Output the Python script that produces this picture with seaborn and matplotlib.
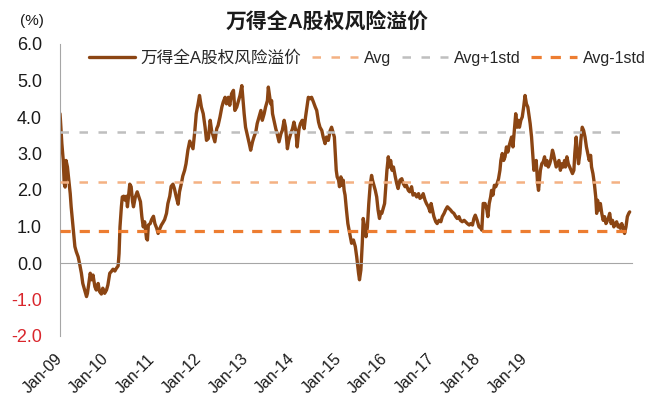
import matplotlib
matplotlib.use("Agg")
import matplotlib.pyplot as plt
import matplotlib.transforms as mtransforms
import seaborn as sns

# --------------------------------------------
# Data (decimal year, ERP in %)
# --------------------------------------------
years = [
    2009.00, 2009.01, 2009.04, 2009.07, 2009.09, 2009.11, 2009.13, 2009.16, 2009.19, 2009.22,
    2009.24, 2009.28, 2009.32, 2009.35, 2009.39, 2009.42, 2009.46, 2009.49, 2009.53, 2009.57,
    2009.59, 2009.62, 2009.65, 2009.68, 2009.71, 2009.75, 2009.78, 2009.82, 2009.85, 2009.89,
    2009.92, 2009.96, 2010.00, 2010.03, 2010.07, 2010.10, 2010.14, 2010.18, 2010.21, 2010.25,
    2010.27, 2010.29, 2010.32, 2010.34, 2010.37, 2010.40, 2010.43, 2010.45, 2010.48, 2010.50,
    2010.53, 2010.56, 2010.58, 2010.62, 2010.66, 2010.69, 2010.73, 2010.76, 2010.79, 2010.82,
    2010.86, 2010.88, 2010.90, 2010.94, 2010.97, 2011.01, 2011.04, 2011.08, 2011.11, 2011.14,
    2011.18, 2011.21, 2011.25, 2011.29, 2011.32, 2011.36, 2011.39, 2011.43, 2011.46, 2011.50,
    2011.54, 2011.57, 2011.61, 2011.64, 2011.68, 2011.71, 2011.75, 2011.79, 2011.82, 2011.86,
    2011.90, 2011.93, 2011.97, 2012.00, 2012.04,
    2012.08, 2012.12, 2012.15, 2012.19, 2012.23, 2012.26, 2012.30, 2012.33, 2012.37, 2012.40,
    2012.44, 2012.48, 2012.51, 2012.55, 2012.58, 2012.62, 2012.65, 2012.69, 2012.73, 2012.76,
    2012.80, 2012.84, 2012.87, 2012.91, 2012.93, 2012.96, 2012.99, 2013.03, 2013.07, 2013.10,
    2013.14, 2013.17, 2013.21, 2013.24, 2013.28, 2013.32, 2013.35, 2013.39, 2013.42, 2013.46,
    2013.48, 2013.50, 2013.53, 2013.55, 2013.57, 2013.60, 2013.64, 2013.67, 2013.71, 2013.75,
    2013.78, 2013.82, 2013.85, 2013.89, 2013.92, 2013.96, 2014.00, 2014.03, 2014.07, 2014.10,
    2014.14, 2014.17, 2014.21, 2014.25, 2014.28, 2014.32, 2014.34, 2014.38, 2014.41, 2014.45,
    2014.49, 2014.52, 2014.56, 2014.59, 2014.63, 2014.66, 2014.70, 2014.73, 2014.77, 2014.81,
    2014.84, 2014.88, 2014.90, 2014.92, 2014.94, 2014.96, 2014.99, 2015.01, 2015.04, 2015.06,
    2015.09, 2015.11, 2015.13, 2015.16, 2015.19, 2015.23,
    2015.27, 2015.31, 2015.35, 2015.38, 2015.42, 2015.44, 2015.47, 2015.50, 2015.52, 2015.55,
    2015.58, 2015.61, 2015.64, 2015.67, 2015.70, 2015.72, 2015.75, 2015.78, 2015.81, 2015.84,
    2015.87, 2015.90, 2015.92, 2015.95, 2015.98, 2016.00, 2016.03, 2016.06, 2016.08, 2016.11,
    2016.14, 2016.17, 2016.21, 2016.24, 2016.27, 2016.31, 2016.35, 2016.38, 2016.42, 2016.45,
    2016.49, 2016.52, 2016.56, 2016.59, 2016.63, 2016.67, 2016.71, 2016.74, 2016.78, 2016.81,
    2016.85, 2016.88, 2016.92, 2016.96, 2016.98, 2017.01, 2017.04, 2017.08, 2017.11, 2017.15,
    2017.19, 2017.22, 2017.26, 2017.29, 2017.33, 2017.37, 2017.40, 2017.43, 2017.47, 2017.51,
    2017.54, 2017.58, 2017.61, 2017.65, 2017.69, 2017.72, 2017.76, 2017.80, 2017.83, 2017.87,
    2017.90, 2017.93, 2017.97, 2018.01, 2018.05, 2018.07, 2018.10,
    2018.14, 2018.18, 2018.20, 2018.23, 2018.26, 2018.28, 2018.31, 2018.34, 2018.37, 2018.40,
    2018.43, 2018.46, 2018.48, 2018.51, 2018.54, 2018.57, 2018.60, 2018.63, 2018.66, 2018.69,
    2018.71, 2018.74, 2018.77, 2018.80, 2018.83, 2018.85, 2018.88, 2018.91, 2018.94, 2018.97,
    2019.00, 2019.03, 2019.06, 2019.09, 2019.11, 2019.14, 2019.17, 2019.19, 2019.21, 2019.24,
    2019.27, 2019.29, 2019.31, 2019.33, 2019.36, 2019.39, 2019.42, 2019.44, 2019.47, 2019.50,
    2019.53, 2019.56, 2019.59, 2019.61, 2019.64, 2019.67, 2019.70, 2019.73, 2019.76, 2019.79,
    2019.82, 2019.85, 2019.87, 2019.90, 2019.93, 2019.96, 2019.99, 2020.02, 2020.05, 2020.07,
    2020.10, 2020.12, 2020.15, 2020.18, 2020.20, 2020.23, 2020.26, 2020.29, 2020.32, 2020.35,
    2020.38, 2020.41, 2020.43, 2020.46, 2020.49, 2020.52, 2020.54, 2020.56, 2020.59, 2020.62,
    2020.65, 2020.68, 2020.71, 2020.74, 2020.76, 2020.79, 2020.82, 2020.85, 2020.88, 2020.91,
    2020.94, 2020.97, 2021.00, 2021.02, 2021.05, 2021.08, 2021.11, 2021.14, 2021.17, 2021.20,
    2021.23, 2021.25,
]
erp = [
    4.09, 3.91, 3.27, 2.81, 2.18, 2.08, 2.81, 2.63, 2.27, 1.90,
    1.54, 0.99, 0.45, 0.31, 0.17, -0.01, -0.28, -0.56, -0.74, -0.92,
    -0.83, -0.56, -0.28, -0.46, -0.33, -0.65, -0.74, -0.56, -0.78, -0.85,
    -0.69, -0.83, -0.74, -0.60, -0.28, -0.24, -0.17, -0.22, -0.15, -0.08,
    0.26, 0.99, 1.54, 1.81, 1.83, 1.72, 1.83, 1.54, 1.90, 2.16,
    2.09, 1.68, 1.54, 1.81, 1.95, 1.83, 1.68, 1.27, 0.99, 1.13,
    0.67, 0.63, 1.04, 1.08, 1.19, 1.28, 1.08, 0.95, 0.81, 0.92,
    1.04, 1.10, 1.19, 1.36, 1.63, 1.83, 2.10, 2.16, 2.04, 1.81,
    1.61, 1.95, 2.18, 2.38, 2.54, 2.72, 3.09, 3.34, 3.25, 3.13,
    3.63, 4.09, 4.36, 4.59, 4.27,
    4.09, 3.72, 3.36, 3.41, 3.91, 3.63, 3.45, 3.32, 3.68, 3.77,
    4.00, 4.27, 4.41, 4.54, 4.36, 4.54, 4.32, 4.64, 4.73, 4.18,
    4.27, 4.45, 4.59, 4.86, 4.54, 4.09, 3.72, 3.50, 3.27, 3.09,
    3.32, 3.45, 3.59, 3.82, 4.00, 4.18, 3.91, 4.09, 4.27, 4.45,
    4.82, 4.64, 4.36, 4.45, 4.09, 3.91, 3.68, 3.54, 3.32, 3.54,
    3.63, 3.91, 3.72, 3.13, 3.36, 3.54, 3.68, 3.86, 3.63, 3.18,
    3.68, 3.82, 3.91, 3.68, 4.00, 4.36, 4.54, 4.50, 4.54, 4.41,
    4.27, 4.18, 3.86, 3.72, 3.63, 3.45, 3.27, 3.45, 3.36, 3.63,
    3.72, 3.54, 3.45, 3.00, 2.54, 2.36, 2.27, 2.09, 2.36, 2.13,
    2.27, 1.99, 1.86, 1.45, 1.08, 0.81,
    0.54, 0.63, 0.45, 0.17, -0.28, -0.46, -0.19, 0.54, 1.22, 0.99,
    0.72, 0.99, 1.63, 2.13, 2.40, 2.27, 2.13, 1.99, 1.81, 1.45,
    1.22, 1.40, 1.36, 1.49, 1.63, 1.99, 2.54, 2.91, 2.63, 2.81,
    2.54, 2.63, 2.36, 2.18, 2.04, 2.27, 2.31, 2.18, 2.09, 2.13,
    1.99, 1.95, 2.09, 1.86, 1.90, 1.81, 1.90, 1.77, 1.81, 1.90,
    1.72, 1.63, 1.54, 1.40, 1.63, 1.45, 1.27, 1.13, 1.08, 1.17,
    1.13, 1.27, 1.36, 1.45, 1.54, 1.49, 1.45, 1.40, 1.36, 1.27,
    1.22, 1.27, 1.17, 1.13, 1.17, 1.13, 1.08, 1.04, 1.08, 1.04,
    1.22, 1.31, 1.17, 0.99, 0.95, 0.90, 1.63,
    1.63, 1.45, 1.27, 1.63, 1.81, 1.99, 1.86, 2.13, 2.09, 2.18,
    2.31, 2.54, 2.81, 3.00, 2.81, 2.91, 3.18, 3.04, 3.22, 3.36,
    3.45, 3.18, 3.63, 4.09, 3.72, 3.91, 3.72, 3.91, 4.00, 4.27,
    4.59, 4.36, 4.27, 4.00, 3.82, 3.45, 2.91, 2.54, 2.63, 2.81,
    2.18, 1.99, 2.27, 2.54, 2.72, 2.77, 2.91, 2.68, 2.81, 2.63,
    2.72, 2.86, 3.09, 3.00, 2.81, 2.63, 2.72, 2.81, 2.54, 2.72,
    2.63, 2.81, 2.63, 2.91, 2.72, 2.63, 2.54, 2.45, 2.54, 3.00,
    3.45, 3.09, 2.72, 3.00, 3.36, 3.72, 3.63, 3.45, 3.18, 3.00,
    2.81, 2.95, 2.63, 2.45, 2.18, 1.81, 1.36, 1.72, 1.45, 1.63,
    1.36, 1.17, 1.27, 1.08, 1.13, 1.22, 1.36, 1.08, 1.17, 0.99,
    1.08, 1.13, 0.99, 1.04, 0.95, 1.08, 0.95, 0.81, 0.99, 1.27,
    1.36, 1.40,
]

avg_level = 2.23
std_level = 1.35

series_name = "万得全A股权风险溢价"
ref_names = ["Avg", "Avg+1std", "Avg-1std"]
tick_years = list(range(2009, 2022))
tick_labels = ["Jan-09", "Jan-10", "Jan-11", "Jan-12", "Jan-13", "Jan-14",
               "Jan-15", "Jan-16", "Jan-17", "Jan-18", "Jan-19", "", ""]
y_ticks = [-2, -1, 0, 1, 2, 3, 4, 5, 6]

# --------------------------------------------
# Style
# --------------------------------------------
sns.set_style("white")
plt.rcParams['font.family'] = ['Liberation Sans', 'Noto Sans CJK SC']

axis_grey = '#A6A6A6'

fig = plt.figure(figsize=(6.54, 3.98), dpi=100)
ax = fig.add_axes([60 / 654, 62 / 398, 572 / 654, 292 / 398])

sns.lineplot(x=years, y=erp, ax=ax, color='#8B4513', linewidth=2.4,
             sort=False, estimator=None, label=series_name, zorder=2)

# reference lines (average and +/- one std)
x_span = [years[0], years[-1]]
ax.plot(x_span, [avg_level] * 2, color='#F4B183', lw=1.8,
        dashes=(3.4, 4.2), label=ref_names[0], zorder=3)
ax.plot(x_span, [avg_level + std_level] * 2, color='#BFBFBF', lw=1.8,
        dashes=(3.4, 4.2), label=ref_names[1], zorder=3)
ax.plot(x_span, [avg_level - std_level] * 2, color='#ED7D31', lw=2.3,
        dashes=(3.2, 2.8), label=ref_names[2], zorder=3)

ax.set_xlim(2009.0, 2021.30)
ax.set_ylim(-2, 6)

# axes / spines
for side in ['top', 'right']:
    ax.spines[side].set_visible(False)
ax.spines['left'].set_color(axis_grey)
ax.spines['bottom'].set_color(axis_grey)
ax.spines['bottom'].set_position(('data', 0))

ax.set_xticks(tick_years)
ax.tick_params(axis='x', direction='in', length=4, color=axis_grey,
               labelbottom=False)
ax.set_yticks(y_ticks)
ax.set_yticklabels([f"{v:.1f}" for v in y_ticks])
ax.tick_params(axis='y', direction='in', length=4, color=axis_grey,
               labelsize=13, pad=13)
for lab, v in zip(ax.get_yticklabels(), y_ticks):
    lab.set_color('#D9262C' if v < 0 else '#1A1A1A')
ax.set_xlabel("")
ax.set_ylabel("")

# date labels sit at the bottom of the plot, not on the zero line
sec = ax.secondary_xaxis(0)
sec.set_xticks(tick_years)
sec.set_xticklabels(tick_labels)
sec.spines['bottom'].set_visible(False)
sec.tick_params(axis='x', length=0, pad=11, labelsize=11.5, labelcolor='#1A1A1A')
shift = mtransforms.ScaledTranslation(5 / 100, 0, fig.dpi_scale_trans)
for lab in sec.get_xticklabels():
    lab.set_rotation(45)
    lab.set_ha('right')
    lab.set_transform(lab.get_transform() + shift)

# legend across the top
handles, labels = ax.get_legend_handles_labels()
leg = ax.legend(handles, labels, ncol=4, loc='center left',
                bbox_to_anchor=(89 / 654, 1 - 58 / 398), bbox_transform=fig.transFigure,
                frameon=False, fontsize=11.5, handlelength=2.9, handletextpad=0.35,
                columnspacing=0.65, borderpad=0, borderaxespad=0)
leg.get_texts()[0].set_fontsize(12)

fig.text(0.5, 1 - 22 / 398, series_name, ha='center', va='center',
         fontsize=15, fontweight='bold', color='#1A1A1A')
fig.text(20 / 654, 1 - 21 / 398, "(%)", ha='left', va='center',
         fontsize=11, color='#1A1A1A')

fig.savefig("out.png", dpi=100)
plt.close()
